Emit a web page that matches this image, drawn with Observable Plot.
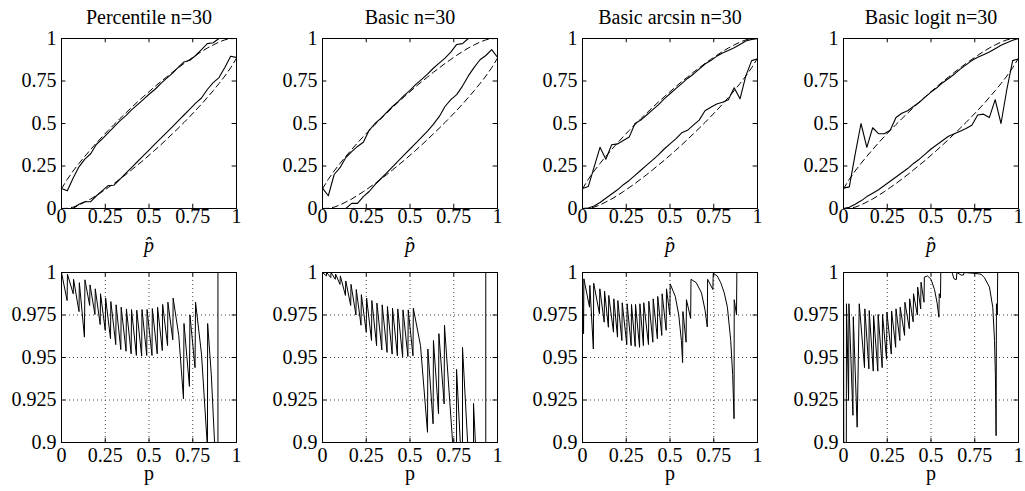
<!DOCTYPE html>
<html><head><meta charset="utf-8">
<script src="https://cdn.jsdelivr.net/npm/d3@7"></script>
<script src="https://cdn.jsdelivr.net/npm/@observablehq/plot@0.6"></script>
<style>
html,body{margin:0;padding:0;background:#fff;}
#chart{position:relative;width:1025px;height:491px;overflow:hidden;background:#fff;}
#chart svg{position:absolute;}
</style></head><body><div id="chart"></div>
<script>
// ---------- data ----------
const titles = ["Percentile n=30", "Basic n=30", "Basic arcsin n=30", "Basic logit n=30"];
const ticks01 = [0, 0.25, 0.5, 0.75, 1];
const covTicks = [0.9, 0.925, 0.95, 0.975, 1];
const gridXTicks = [0.25, 0.5, 0.75];
const gridYTicks = [0.925, 0.95, 0.975];

const phat = [0, 0.0333, 0.0667, 0.1, 0.1333, 0.1667, 0.2, 0.2333, 0.2667, 0.3, 0.3333, 0.3667, 0.4, 0.4333, 0.4667, 0.5,
  0.5333, 0.5667, 0.6, 0.6333, 0.6667, 0.7, 0.7333, 0.7667, 0.8, 0.8333, 0.8667, 0.9, 0.9333, 0.9667, 1];

// dashed reference bounds
const exactUpper = [0.116, 0.172, 0.221, 0.265, 0.307, 0.347, 0.386, 0.423, 0.459, 0.494, 0.528, 0.561, 0.594, 0.626, 0.657, 0.687,
  0.717, 0.746, 0.773, 0.801, 0.827, 0.853, 0.877, 0.901, 0.923, 0.944, 0.962, 0.979, 0.992, 0.999, 1.0];
const exactLower = [0, 0.001, 0.008, 0.021, 0.038, 0.056, 0.077, 0.099, 0.123, 0.147, 0.173, 0.199, 0.227, 0.255, 0.283, 0.313,
  0.343, 0.374, 0.406, 0.439, 0.472, 0.506, 0.541, 0.577, 0.614, 0.653, 0.693, 0.735, 0.779, 0.828, 0.884];

// solid bounds, one pair per method
const percUpper = [0.118, 0.104, 0.18, 0.245, 0.29, 0.322, 0.378, 0.41, 0.445, 0.48, 0.515, 0.545, 0.58, 0.61, 0.64, 0.672,
  0.70, 0.735, 0.765, 0.795, 0.83, 0.862, 0.872, 0.90, 0.935, 0.97, 0.975, 1.0, 1.0, 1.0, 1.0];
const percLower = [0, 0, 0, 0.025, 0.04, 0.04, 0.075, 0.105, 0.135, 0.137, 0.171, 0.206, 0.24, 0.275, 0.309, 0.343,
  0.378, 0.412, 0.446, 0.48, 0.515, 0.55, 0.585, 0.62, 0.65, 0.70, 0.74, 0.77, 0.83, 0.896, 0.888];
const basicUpper = [0.12, 0.075, 0.20, 0.24, 0.30, 0.335, 0.365, 0.39, 0.46, 0.50, 0.53, 0.565, 0.60, 0.63, 0.665, 0.695,
  0.73, 0.76, 0.79, 0.825, 0.855, 0.885, 0.92, 0.965, 0.97, 1.0, 1.0, 1.0, 1.0, 1.0, 1.0];
const basicLower = [0, 0, 0, 0, 0, 0.03, 0.03, 0.07, 0.10, 0.14, 0.175, 0.21, 0.245, 0.28, 0.315, 0.35,
  0.385, 0.42, 0.455, 0.495, 0.54, 0.60, 0.64, 0.67, 0.72, 0.78, 0.83, 0.875, 0.90, 0.935, 0.89];
const arcsinUpper = [0.118, 0.13, 0.245, 0.36, 0.29, 0.375, 0.38, 0.40, 0.42, 0.50, 0.52, 0.55, 0.58, 0.61, 0.645, 0.675,
  0.705, 0.735, 0.765, 0.79, 0.82, 0.85, 0.87, 0.895, 0.915, 0.93, 0.945, 0.965, 0.985, 0.995, 1.0];
const arcsinLower = [0, 0.003, 0.015, 0.035, 0.06, 0.085, 0.11, 0.14, 0.165, 0.195, 0.225, 0.255, 0.285, 0.315, 0.35, 0.38,
  0.41, 0.445, 0.46, 0.49, 0.52, 0.575, 0.595, 0.615, 0.625, 0.64, 0.71, 0.645, 0.78, 0.87, 0.88];
const logitUpper = [0.12, 0.127, 0.32, 0.50, 0.36, 0.475, 0.44, 0.44, 0.46, 0.535, 0.56, 0.575, 0.60, 0.625, 0.655, 0.685,
  0.71, 0.74, 0.765, 0.79, 0.82, 0.845, 0.87, 0.89, 0.905, 0.92, 0.94, 0.96, 0.975, 0.99, 1.0];
const logitLower = [0, 0.007, 0.025, 0.045, 0.07, 0.09, 0.11, 0.135, 0.16, 0.185, 0.21, 0.235, 0.265, 0.29, 0.32, 0.35,
  0.375, 0.40, 0.425, 0.44, 0.455, 0.47, 0.49, 0.55, 0.555, 0.535, 0.64, 0.50, 0.70, 0.87, 0.88];

// coverage probability vs p  ([p, coverage])
const covPercentile = [[0,1],[0.032,0.9835],[0.034,0.999],[0.067,0.9875],[0.069,0.996],[0.100,0.977],[0.102,0.994],[0.131,0.962],[0.134,0.9957],
  [0.161,0.9806],[0.163,0.9927],[0.191,0.9753],[0.193,0.9904],[0.221,0.9694],[0.223,0.9875],[0.250,0.9659],[0.252,0.9851],[0.280,0.961],[0.282,0.9829],
  [0.310,0.9576],[0.312,0.981],[0.339,0.9547],[0.341,0.9796],[0.369,0.9537],[0.371,0.9786],[0.398,0.9522],[0.400,0.9782],[0.428,0.9512],[0.430,0.9778],
  [0.458,0.9508],[0.460,0.9782],[0.487,0.9512],[0.489,0.9782],[0.517,0.9512],[0.519,0.9788],[0.547,0.9522],[0.549,0.9796],[0.576,0.9541],[0.578,0.9812],
  [0.606,0.957],[0.608,0.9825],[0.636,0.9604],[0.638,0.9849],[0.67,0.963],[0.697,0.9257],[0.700,0.970],[0.731,0.933],[0.734,0.975],[0.763,0.944],
  [0.766,0.9825],[0.80,0.952],[0.832,0.9],[0.834,0.895],[0.835,0.970],[0.856,0.94],[0.877,0.895],[0.894,0.895],[0.894,1.0],[1.0,1.0]];
const covBasic = [[0,1],[0.022,0.998],[0.024,1.0],[0.047,0.997],[0.049,1.0],[0.073,0.996],[0.075,0.999],[0.100,0.993],[0.102,0.998],
  [0.131,0.9865],[0.133,0.995],[0.161,0.9806],[0.163,0.993],[0.191,0.975],[0.193,0.990],[0.220,0.969],[0.222,0.987],[0.250,0.965],[0.252,0.985],
  [0.280,0.960],[0.282,0.9835],[0.309,0.957],[0.311,0.982],[0.339,0.9545],[0.341,0.981],[0.369,0.953],[0.371,0.980],[0.398,0.952],[0.400,0.979],
  [0.428,0.951],[0.430,0.9786],[0.458,0.9502],[0.460,0.978],[0.488,0.9506],[0.490,0.978],[0.517,0.951],[0.519,0.979],
  [0.56,0.957],[0.600,0.906],[0.602,0.955],[0.632,0.911],[0.634,0.960],[0.663,0.917],[0.665,0.964],[0.695,0.9227],[0.697,0.969],[0.747,0.895],
  [0.766,0.895],[0.766,0.943],[0.79,0.895],[0.80,0.895],[0.80,0.956],[0.832,0.895],[0.863,0.895],[0.863,0.923],[0.876,0.895],[0.933,0.895],[0.933,1.0],[1.0,1.0]];
const covArcsin = [[0,0.997],[0.006,0.964],[0.008,0.9963],[0.040,0.9796],[0.042,0.9924],[0.062,0.955],[0.064,0.9937],[0.097,0.9757],[0.099,0.9904],
  [0.124,0.9708],[0.126,0.989],[0.148,0.9678],[0.150,0.9865],[0.177,0.9649],[0.179,0.9845],[0.200,0.962],[0.202,0.9835],[0.225,0.960],[0.227,0.9822],
  [0.253,0.9576],[0.255,0.9816],[0.278,0.957],[0.280,0.9812],[0.301,0.9565],[0.303,0.9812],[0.326,0.956],[0.328,0.9816],[0.348,0.957],[0.350,0.9822],
  [0.377,0.9576],[0.379,0.9831],[0.402,0.959],[0.404,0.9845],[0.428,0.961],[0.430,0.9859],[0.453,0.963],[0.455,0.9875],[0.478,0.966],[0.480,0.9904],
  [0.499,0.975],[0.501,0.9933],[0.53,0.986],[0.55,0.975],[0.565,0.96],[0.572,0.947],[0.574,0.977],[0.592,0.959],[0.594,0.984],[0.618,0.973],[0.620,0.996],
  [0.65,0.994],[0.68,0.988],[0.70,0.978],[0.713,0.968],[0.715,0.996],[0.745,0.990],[0.747,0.9995],[0.77,0.998],[0.79,0.994],[0.81,0.988],[0.828,0.9796],
  [0.847,0.96],[0.858,0.94],[0.866,0.914],[0.867,0.984],[0.880,0.975],[0.882,1.0],[1.0,1.0]];
const covLogit = [[0,0.995],[0.002,0.88],[0.016,0.88],[0.017,0.9816],[0.029,0.9247],[0.031,0.9816],[0.054,0.916],[0.056,0.974],[0.078,0.909],[0.090,0.9816],
  [0.120,0.944],[0.122,0.9786],[0.145,0.9433],[0.147,0.9776],[0.170,0.942],[0.172,0.9747],[0.196,0.942],[0.198,0.9753],[0.221,0.944],[0.223,0.9753],
  [0.246,0.949],[0.248,0.9767],[0.273,0.952],[0.275,0.9773],[0.298,0.956],[0.300,0.9786],[0.322,0.960],[0.324,0.9796],[0.349,0.963],[0.351,0.9825],
  [0.376,0.967],[0.378,0.9845],[0.398,0.971],[0.400,0.9875],[0.422,0.975],[0.424,0.9914],[0.441,0.9786],[0.443,0.9943],[0.460,0.9825],[0.462,0.9973],
  [0.48,0.998],[0.50,0.996],[0.52,0.99],[0.535,0.982],[0.545,0.9737],[0.547,0.9875],[0.554,0.985],[0.556,1.0],[0.62,1.0],[0.632,0.9962],[0.645,0.9958],
  [0.648,1.0],[0.672,0.9985],[0.685,0.9985],[0.69,1.0],[0.75,0.9995],[0.786,0.999],[0.805,0.997],[0.834,0.9914],[0.853,0.9796],[0.863,0.96],[0.868,0.94],
  [0.872,0.904],[0.874,0.9816],[0.879,0.975],[0.881,1.0],[1.0,1.0]];

// ---------- drawing ----------
const FONT = "Liberation Serif, Times New Roman, Times, serif";
const fmt = d => String(d);
const panelLeft = [0, 261, 521, 782];
const upperSets = [percUpper, basicUpper, arcsinUpper, logitUpper];
const lowerSets = [percLower, basicLower, arcsinLower, logitLower];
const covSets = [covPercentile, covBasic, covArcsin, covLogit];
const style = {fontFamily: FONT, fontSize: "20px", color: "#000", background: "transparent", overflow: "visible"};
const txt = {fontFamily: FONT, fontSize: 20, fill: "#000"};

function tickLabels(xt, yt, xdy) {
  return [
    Plot.text(xt, {...txt, x: d => d, text: fmt, frameAnchor: "bottom", lineAnchor: "top", dy: xdy}),
    Plot.text(yt, {...txt, y: d => d, text: fmt, frameAnchor: "left", textAnchor: "end", lineAnchor: "middle", dx: -5})
  ];
}

function topPanel(title, up, lo) {
  const rows = arr => phat.map((p, i) => ({p, v: arr[i]}));
  const ln = {x: "p", y: "v", stroke: "#000", clip: true};
  return Plot.plot({
    width: 243, height: 245, marginLeft: 61, marginRight: 7, marginTop: 38, marginBottom: 37,
    style,
    x: {domain: [0, 1], axis: null},
    y: {domain: [0, 1], axis: null},
    marks: [
      Plot.line(rows(exactUpper), {...ln, strokeWidth: 1, strokeDasharray: "6,4"}),
      Plot.line(rows(exactLower), {...ln, strokeWidth: 1, strokeDasharray: "6,4"}),
      Plot.line(rows(up), {...ln, strokeWidth: 1.1}),
      Plot.line(rows(lo), {...ln, strokeWidth: 1.1}),
      Plot.ruleX(ticks01, {x: d => d, y1: () => 0, y2: () => 0.025, stroke: "#000"}),
      Plot.ruleX(ticks01, {x: d => d, y1: () => 0.975, y2: () => 1, stroke: "#000"}),
      Plot.ruleY(ticks01, {y: d => d, x1: () => 0, x2: () => 0.025, stroke: "#000"}),
      Plot.ruleY(ticks01, {y: d => d, x1: () => 0.975, x2: () => 1, stroke: "#000"}),
      Plot.frame({stroke: "#000"}),
      ...tickLabels(ticks01, ticks01, 0),
      Plot.text([title], {...txt, text: d => d, frameAnchor: "top", dy: -15, lineAnchor: "bottom"}),
      Plot.text(["p\u0302"], {...txt, text: d => d, frameAnchor: "bottom", dy: 43, lineAnchor: "bottom", fontStyle: "italic"})
    ]
  });
}

function bottomPanel(cov) {
  const rows = cov.map(([p, c]) => ({p, c}));
  return Plot.plot({
    width: 243, height: 246, marginLeft: 61, marginRight: 7, marginTop: 27, marginBottom: 49,
    style,
    x: {domain: [0, 1], axis: null},
    y: {domain: [0.9, 1], axis: null},
    marks: [
      Plot.ruleX(gridXTicks, {x: d => d, stroke: "#444", strokeDasharray: "1,3"}),
      Plot.ruleY(gridYTicks, {y: d => d, stroke: "#444", strokeDasharray: "1,3"}),
      Plot.line(rows, {x: "p", y: "c", stroke: "#000", strokeWidth: 1, clip: true}),
      Plot.ruleX(ticks01, {x: d => d, y1: () => 0.9, y2: () => 0.9025, stroke: "#000"}),
      Plot.ruleX(ticks01, {x: d => d, y1: () => 0.9975, y2: () => 1, stroke: "#000"}),
      Plot.ruleY(covTicks, {y: d => d, x1: () => 0, x2: () => 0.025, stroke: "#000"}),
      Plot.ruleY(covTicks, {y: d => d, x1: () => 0.975, x2: () => 1, stroke: "#000"}),
      Plot.frame({stroke: "#000"}),
      ...tickLabels(ticks01, covTicks, 5),
      Plot.text(["p"], {...txt, text: d => d, frameAnchor: "bottom", dy: 37, lineAnchor: "bottom"})
    ]
  });
}

const root = document.getElementById("chart");
titles.forEach((t, i) => {
  const a = topPanel(t, upperSets[i], lowerSets[i]);
  a.style.left = panelLeft[i] + "px"; a.style.top = "0px";
  root.appendChild(a);
  const b = bottomPanel(covSets[i]);
  b.style.left = panelLeft[i] + "px"; b.style.top = "245px";
  root.appendChild(b);
});
</script></body></html>
